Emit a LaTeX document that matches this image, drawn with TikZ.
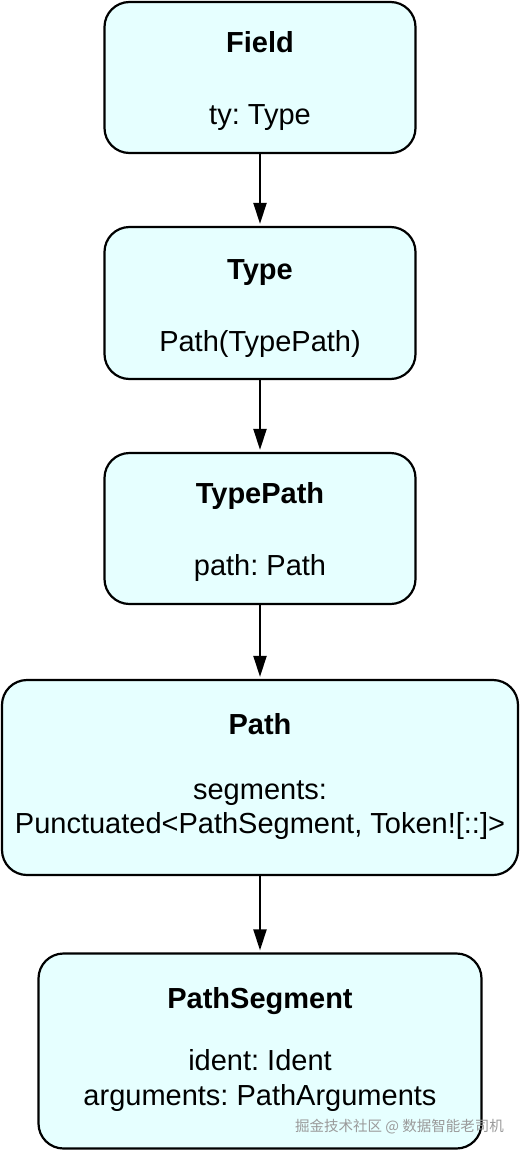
\documentclass[tikz,border=0pt]{standalone}
\usepackage{fontspec}
\setmainfont{Liberation Sans}
\newfontfamily\cjkfont{Noto Sans CJK SC}
\usetikzlibrary{arrows.meta}
\definecolor{boxfill}{HTML}{E6FFFF}
\definecolor{wmgray}{HTML}{9A9A9A}
\frenchspacing
\begin{document}
\begin{tikzpicture}[x=1pt,y=-1pt,
  box/.style={draw=black, line width=2.2pt, fill=boxfill, rounded corners=25pt, inner sep=0pt},
  ttl/.style={anchor=base, inner sep=0pt, font=\fontsize{29}{34}\selectfont\bfseries\frenchspacing},
  txt/.style={anchor=base, inner sep=0pt, font=\fontsize{29}{34}\selectfont\frenchspacing},
  arr/.style={line width=2pt, -{Triangle[length=21pt,width=13pt]}, shorten >=2pt}]
\useasboundingbox (0,0) rectangle (520,1151);
% boxes
\node[box, minimum width=311pt, minimum height=151pt] (field) at (260,77.5) {};
\node[box, minimum width=311pt, minimum height=152pt] (type) at (260,303) {};
\node[box, minimum width=311pt, minimum height=151pt] (typepath) at (260,528.5) {};
\node[box, minimum width=516pt, minimum height=195pt] (path) at (260,777.5) {};
\node[box, minimum width=443pt, minimum height=195pt] (seg) at (260,1051) {};
% texts
\node[ttl] (fieldT) at (260,52) {Field};
\node[txt] (fieldB) at (260,124) {ty: Type};
\node[ttl] (typeT) at (260,279) {Type};
\node[txt] (typeB) at (260,351) {Path(TypePath)};
\node[ttl] (typepathT) at (260,503) {TypePath};
\node[txt] (typepathB) at (260,575) {path: Path};
\node[ttl] (pathT) at (260,734) {Path};
\node[txt] (pathB1) at (260,799) {segments:};
\node[txt] (pathB2) at (260,833) {Punctuated<PathSegment, Token![::]>};
\node[ttl] (segT) at (260,1008) {PathSegment};
\node[txt] (segB1) at (260,1070) {ident: Ident};
\node[txt] (segB2) at (260,1105) {arguments: PathArguments};
% connectors
\draw[arr] (field.south) -- (type.north);
\draw[arr] (type.south) -- (typepath.north);
\draw[arr] (typepath.south) -- (path.north);
\draw[arr] (path.south) -- (seg.north);
% watermark
\node[anchor=east, inner sep=0pt, text=wmgray, font=\cjkfont\fontsize{14.5}{16}\selectfont] (wm) at (504,1127) {掘金技术社区 @ 数据智能老司机};
\end{tikzpicture}
\end{document}
